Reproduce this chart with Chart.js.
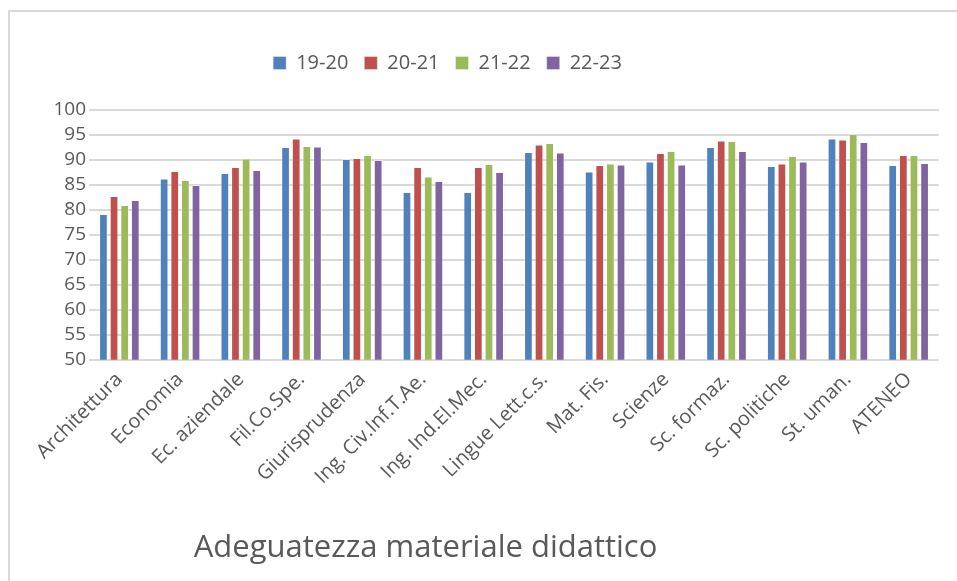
<!DOCTYPE html>
<html>
<head>
<meta charset="utf-8">
<script src="https://cdn.jsdelivr.net/npm/chart.js@4/dist/chart.umd.min.js"></script>
<style>
    html, body { margin: 0; padding: 0; background: #fff; }
    #wrap { position: relative; width: 957px; height: 581px; }
    #frame { position: absolute; left: 8px; top: 10px; right: 0; bottom: 0; border-left: 2px solid #d9d9d9; border-top: 2px solid #d9d9d9; pointer-events: none; }
</style>
</head>
<body>
<div id="wrap">
    <canvas id="chart" width="957" height="581"></canvas>
    <div id="frame"></div>
</div>
<script>
const categories = ['Architettura', 'Economia', 'Ec. aziendale', 'Fil.Co.Spe.', 'Giurisprudenza', 'Ing. Civ.Inf.T.Ae.',
    'Ing. Ind.El.Mec.', 'Lingue Lett.c.s.', 'Mat. Fis.', 'Scienze', 'Sc. formaz.', 'Sc. politiche', 'St. uman.', 'ATENEO'];

const y1920 = [79.2, 86.3, 87.4, 92.6, 90.2, 83.6, 83.6, 91.6, 87.7, 89.7, 92.6, 88.8, 94.3, 89.0];
const y2021 = [82.8, 87.8, 88.6, 94.3, 90.4, 88.6, 88.6, 93.1, 89.0, 91.4, 93.9, 89.3, 94.1, 91.0];
const y2122 = [81.0, 86.0, 90.3, 92.8, 91.0, 86.7, 89.2, 93.4, 89.3, 91.8, 93.8, 90.8, 95.2, 91.0];
const y2223 = [82.0, 85.0, 88.0, 92.7, 90.0, 85.8, 87.6, 91.5, 89.1, 89.1, 91.8, 89.7, 93.6, 89.4];

const seriesNames = ['19-20', '20-21', '21-22', '22-23'];
const seriesColors = ['#4f81bd', '#c0504d', '#9bbb59', '#8064a2'];
const yTicks = [50, 55, 60, 65, 70, 75, 80, 85, 90, 95, 100];

const textColor = '#595959';
const fontFamily = "'Open Sans', sans-serif";

// Excel-like layout: extra space under the legend, legend and title a bit left of centre
const layoutTweak = {
    id: 'layoutTweak',
    beforeLayout(chart) {
        const lg = chart.legend;
        if (lg && !lg._tweaked) {
            const fit = lg.fit;
            lg.fit = function () { fit.call(this); this.height += 27; };
            lg._tweaked = true;
        }
    },
    afterLayout(chart) {
        chart.legend.left -= 22;
        chart.legend.right -= 22;
        chart.titleBlock.left -= 44;
        chart.titleBlock.right -= 44;
    }
};

const datasets = [y1920, y2021, y2122, y2223].map((vals, i) => ({
    label: seriesNames[i],
    data: vals,
    backgroundColor: seriesColors[i],
    borderColor: 'rgba(255,255,255,0.35)',
    borderWidth: 1,
    barPercentage: 0.82,
    categoryPercentage: 0.7
}));

new Chart(document.getElementById('chart'), {
    type: 'bar',
    data: { labels: categories, datasets: datasets },
    plugins: [layoutTweak],
    options: {
        responsive: false,
        animation: false,
        layout: { padding: { top: 37, right: 18, left: 0, bottom: 0 } },
        plugins: {
            legend: {
                position: 'top',
                labels: {
                    color: textColor,
                    font: { family: fontFamily, size: 20 },
                    boxWidth: 13,
                    boxHeight: 13,
                    padding: 16
                }
            },
            title: {
                display: true,
                position: 'bottom',
                text: 'Adeguatezza materiale didattico',
                color: textColor,
                font: { family: fontFamily, size: 31, weight: 'normal' },
                padding: { top: 0, bottom: 14 }
            },
            tooltip: { enabled: false }
        },
        scales: {
            x: {
                grid: { display: false },
                border: { display: false },
                ticks: {
                    color: textColor,
                    font: { family: fontFamily, size: 20 },
                    maxRotation: 45,
                    minRotation: 45,
                    autoSkip: false,
                    padding: 0
                },
                afterFit(scale) { scale.height = 170; }
            },
            y: {
                min: 50,
                max: 100,
                afterBuildTicks(scale) { scale.ticks = yTicks.map(v => ({ value: v })); },
                grid: { color: '#d9d9d9', lineWidth: 2, drawTicks: false },
                border: { display: false },
                ticks: {
                    color: textColor,
                    font: { family: fontFamily, size: 19 },
                    autoSkip: false,
                    padding: 3
                },
                afterFit(scale) { scale.width = 89; }
            }
        }
    }
});
</script>
</body>
</html>
